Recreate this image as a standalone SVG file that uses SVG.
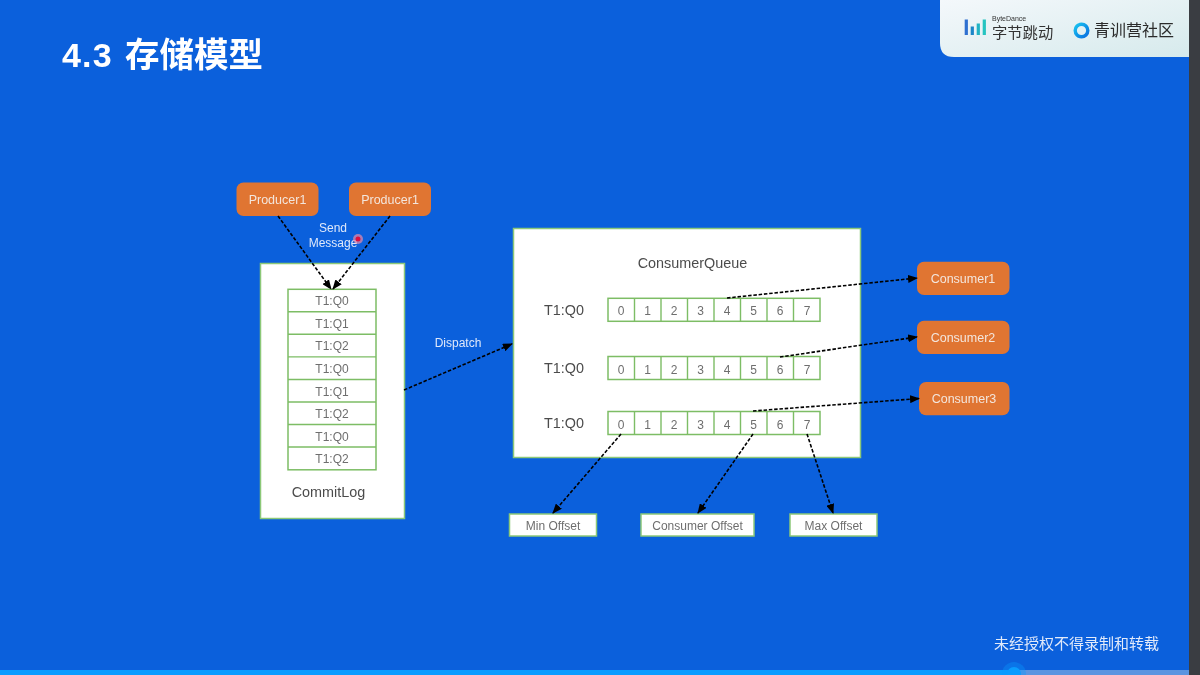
<svg xmlns="http://www.w3.org/2000/svg" width="1200" height="675" viewBox="0 0 1200 675">
<style>
text{font-family:"Liberation Sans","Noto Sans CJK SC",sans-serif;text-anchor:middle}
.box{fill:#fff;stroke:#8cc878;stroke-width:1.5}
.cell{fill:#fff;stroke:#7dbd65;stroke-width:1.500}
.org{fill:#e07432}
.w{fill:#f3e6dc;font-size:12.5px}
.g{fill:#6e6e6e;font-size:12px}
.d{fill:#4c4c4c;font-size:14.400px}
.l{fill:#dfe8fa;font-size:12px}
.conn{fill:none;stroke:#000;stroke-width:1.600;stroke-dasharray:3.500 1.800;marker-end:url(#ah)}
.cjk{font-family:"Noto Sans CJK SC",sans-serif}
</style>
<defs>
<filter id="soft" x="0" y="0" width="100%" height="100%"><feGaussianBlur stdDeviation="0.45"/></filter>
<marker id="ah" markerWidth="10" markerHeight="8" refX="9" refY="4" orient="auto" markerUnits="userSpaceOnUse"><path d="M0 0L10 4L0 8Z" fill="#000"/></marker>
<linearGradient id="pg" x1="0" x2="1" y1="0" y2="1"><stop offset="0" stop-color="#f4f8fb"/><stop offset="1" stop-color="#d6eaec"/></linearGradient>
<linearGradient id="rg" x1="0" x2="1" y1="0" y2="1"><stop offset="0" stop-color="#16c4f0"/><stop offset="1" stop-color="#0b6fe0"/></linearGradient>
<g id="qc">
<rect class="cell" x="608" y="0" width="212" height="23"/>
<path d="M634.500 0v23M661 0v23M687.500 0v23M714 0v23M740.500 0v23M767 0v23M793.500 0v23" stroke="#7dbd65" stroke-width="1.400" fill="none"/>
<text class="g" x="621" y="17">0</text><text class="g" x="647.500" y="17">1</text><text class="g" x="674" y="17">2</text><text class="g" x="700.500" y="17">3</text><text class="g" x="727" y="17">4</text><text class="g" x="753.500" y="17">5</text><text class="g" x="780" y="17">6</text><text class="g" x="807" y="17">7</text>
</g>
</defs>
<rect width="1200" height="675" fill="#0b60dc"/>
<g filter="url(#soft)">
<g id="title"><text x="62" y="67" style="text-anchor:start;font-weight:700;font-size:34px;letter-spacing:1.200px" fill="#fff">4.3</text><text class="cjk" x="125" y="67" style="text-anchor:start;font-weight:700;font-size:34.500px" fill="#fff">存储模型</text></g>
<g id="brand">
<path d="M940 0H1189V57H954Q940 57 940 43Z" fill="url(#pg)"/>
<rect x="964.700" y="19.500" width="3.200" height="15.500" fill="#2f6fd0"/><rect x="970.700" y="26.500" width="3.200" height="8.500" fill="#1f86c8"/><rect x="976.700" y="23.500" width="3.200" height="11.500" fill="#22b4c4"/><rect x="982.700" y="19.500" width="3.200" height="15.500" fill="#25c4c0"/>
<text x="992" y="20.500" style="text-anchor:start;font-size:7px" fill="#333">ByteDance</text>
<text class="cjk" x="992" y="38" style="text-anchor:start;font-size:15.300px" fill="#333">字节跳动</text>
<circle cx="1081.500" cy="30.500" r="6.300" fill="none" stroke="url(#rg)" stroke-width="3.400"/>
<text class="cjk" x="1094" y="36" style="text-anchor:start;font-size:16px" fill="#2a2a2a">青训营社区</text>
</g>
<g id="commitlog">
<rect class="box" x="260.500" y="263.500" width="144" height="255"/>
<rect class="cell" x="288" y="289.300" width="88" height="180.500"/>
<path d="M288 311.800h88M288 334.300h88M288 356.900h88M288 379.500h88M288 402h88M288 424.500h88M288 447h88" stroke="#7dbd65" stroke-width="1.400"/>
<text class="g" x="332" y="305">T1:Q0</text><text class="g" x="332" y="328">T1:Q1</text><text class="g" x="332" y="350">T1:Q2</text><text class="g" x="332" y="373">T1:Q0</text><text class="g" x="332" y="396">T1:Q1</text><text class="g" x="332" y="418">T1:Q2</text><text class="g" x="332" y="441">T1:Q0</text><text class="g" x="332" y="463">T1:Q2</text>
<text class="d" x="328.500" y="497">CommitLog</text>
</g>
<g id="queue">
<rect class="box" x="513.500" y="228.500" width="347" height="229"/>
<text class="d" x="692.500" y="268">ConsumerQueue</text>
<text class="d" x="564" y="315">T1:Q0</text><text class="d" x="564" y="373">T1:Q0</text><text class="d" x="564" y="428">T1:Q0</text>
<use href="#qc" y="298.300"/><use href="#qc" y="356.500"/><use href="#qc" y="411.500"/>
</g>
<g id="producer1"><rect class="org" x="236.500" y="182.500" width="82" height="33.500" rx="7"/><text class="w" x="277.500" y="204">Producer1</text></g>
<g id="producer2"><rect class="org" x="349" y="182.500" width="82" height="33.500" rx="7"/><text class="w" x="390" y="204">Producer1</text></g>
<g id="consumer1"><rect class="org" x="917" y="261.700" width="92.500" height="33.300" rx="7"/><text class="w" x="963" y="283">Consumer1</text></g>
<g id="consumer2"><rect class="org" x="917" y="320.700" width="92.500" height="33.300" rx="7"/><text class="w" x="963" y="342">Consumer2</text></g>
<g id="consumer3"><rect class="org" x="919" y="382" width="90.500" height="33.300" rx="7"/><text class="w" x="964" y="403">Consumer3</text></g>
<g id="minoffset"><rect class="box" x="509.500" y="514" width="87" height="22"/><text class="g" x="553" y="530">Min Offset</text></g>
<g id="consumeroffset"><rect class="box" x="641" y="514" width="113" height="22"/><text class="g" x="697.500" y="530">Consumer Offset</text></g>
<g id="maxoffset"><rect class="box" x="790" y="514" width="87" height="22"/><text class="g" x="833.500" y="530">Max Offset</text></g>
<g id="connectors">
<path class="conn" d="M278 216L331 289"/>
<path class="conn" d="M390 216L333 289"/>
<path class="conn" d="M404 390L512 344"/>
<path class="conn" d="M727 298L917 278"/>
<path class="conn" d="M780 357L917 337"/>
<path class="conn" d="M753 411L919 398.500"/>
<path class="conn" d="M621 434L553 513"/>
<path class="conn" d="M753 434L698 513"/>
<path class="conn" d="M807 434L833 513"/>
</g>
<g id="labels">
<text class="l" x="333" y="232">Send</text><text class="l" x="333" y="247">Message</text>
<text class="l" x="458" y="347">Dispatch</text>
</g>
<g id="pointer"><circle cx="358" cy="239" r="5" fill="#e88aa8" opacity=".7"/><circle cx="358" cy="239" r="2.500" fill="#e0103c"/></g>
<g id="footer"><text class="cjk" x="1076.500" y="649" style="font-size:15px" fill="#e2eafa">未经授权不得录制和转载</text></g>
</g>
<g id="chrome">
<rect x="0" y="670" width="1014" height="5" fill="#0a9cff"/>
<rect x="1014" y="670" width="175" height="5" fill="#5b94e0"/>
<circle cx="1014" cy="674" r="12" fill="#0a9cff" opacity=".35"/>
<circle cx="1014" cy="674" r="7" fill="#0a9cff"/>
<rect x="1189" y="0" width="11" height="675" fill="#3a3d42"/>
</g>
</svg>
